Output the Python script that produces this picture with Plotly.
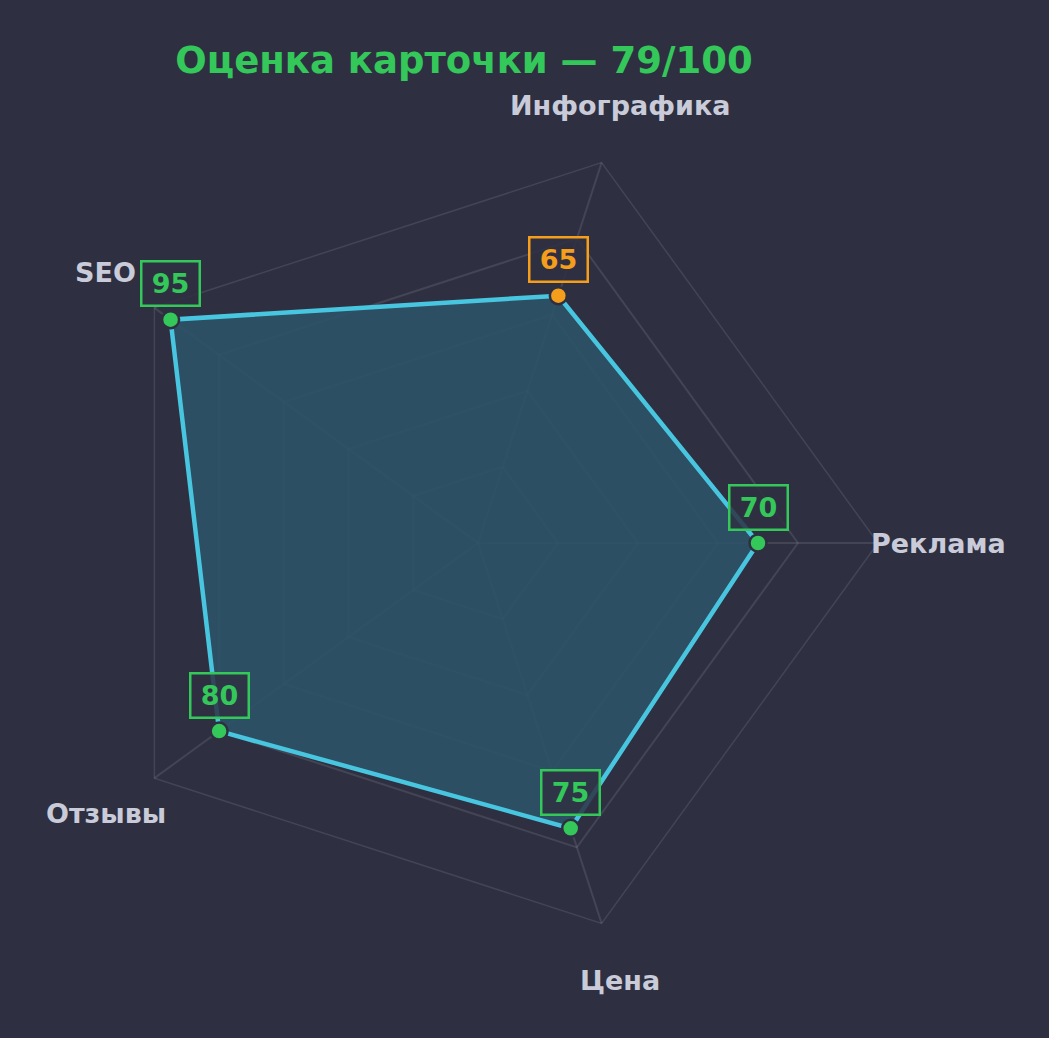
import math
import plotly.graph_objects as go

# данные карточки
categories = ["Реклама", "Инфографика", "SEO", "Отзывы", "Цена"]
scores = [70, 65, 95, 80, 75]
title_text = "Оценка карточки — 79/100"
grid_levels = [20, 40, 60, 80]

BG = "#2e3042"
GREEN = "#34c759"
ORANGE = "#f59e1b"
CYAN = "#48c6e0"
LABEL = "#c9cbd9"
GRID = "rgba(255,255,255,0.10)"
FONT = "DejaVu Sans"

W, H = 1049, 1038
cx, cy, R = 478, 543, 400   # центр и радиус полярной области в пикселях

point_colors = [ORANGE if s < 70 else GREEN for s in scores]

fig = go.Figure()

# заливка и контур
fig.add_trace(go.Scatterpolar(
    r=scores + scores[:1], theta=categories + categories[:1],
    mode="lines", fill="toself", fillcolor="rgba(45,83,103,0.92)",
    line=dict(color=CYAN, width=4.5), hoverinfo="skip", showlegend=False))

# точки
fig.add_trace(go.Scatterpolar(
    r=scores, theta=categories, mode="markers",
    marker=dict(size=17, color=point_colors, line=dict(color=BG, width=2.5)),
    showlegend=False))

fig.update_layout(
    width=W, height=H,
    margin=dict(l=0, r=0, t=0, b=0),
    paper_bgcolor=BG, plot_bgcolor="rgba(0,0,0,0)",
    polar=dict(
        domain=dict(x=[(cx - R) / W, (cx + R) / W],
                    y=[1 - (cy + R) / H, 1 - (cy - R) / H]),
        bgcolor="rgba(0,0,0,0)",
        gridshape="linear",
        radialaxis=dict(range=[0, 100], tickvals=grid_levels, showticklabels=False,
                        ticks="", showline=False, gridcolor=GRID, gridwidth=1.5,
                        layer="below traces"),
        angularaxis=dict(rotation=0, direction="counterclockwise",
                         showticklabels=False, ticks="",
                         showline=True, linecolor=GRID, linewidth=1.5,
                         gridcolor=GRID, gridwidth=1.5, layer="below traces"),
    ),
    # невидимые оси поверх полярной области для подписей
    xaxis=dict(domain=[0, 1], range=[-cx / R * 100, (W - cx) / R * 100],
               visible=False, fixedrange=True),
    yaxis=dict(domain=[0, 1], range=[(cy - H) / R * 100, cy / R * 100],
               visible=False, fixedrange=True),
    title=dict(text=title_text, x=464 / W, xanchor="center",
               y=1 - 60 / H, yanchor="middle",
               font=dict(family=FONT, size=37, color=GREEN, weight="bold")),
)

n = len(categories)
for i, (cat, s, col) in enumerate(zip(categories, scores, point_colors)):
    ang = 2 * math.pi * i / n
    # подпись оси
    fig.add_annotation(
        x=115 * math.cos(ang), y=115 * math.sin(ang), xref="x", yref="y",
        text=cat, showarrow=False, xanchor="center", yanchor="middle",
        font=dict(family=FONT, size=27, color=LABEL, weight="bold"))
    # значение в рамке
    fig.add_annotation(
        x=s * math.cos(ang), y=s * math.sin(ang), xref="x", yref="y",
        text=str(s), showarrow=False, xanchor="center", yanchor="middle",
        yshift=36, width=44, height=30, borderpad=6,
        bgcolor="rgba(46,48,66,0.85)", bordercolor=col, borderwidth=2.5,
        font=dict(family=FONT, size=27, color=col, weight="bold"))

fig.write_html("out.html", config={"displayModeBar": False},
               post_script="document.body.style.margin='0';")
